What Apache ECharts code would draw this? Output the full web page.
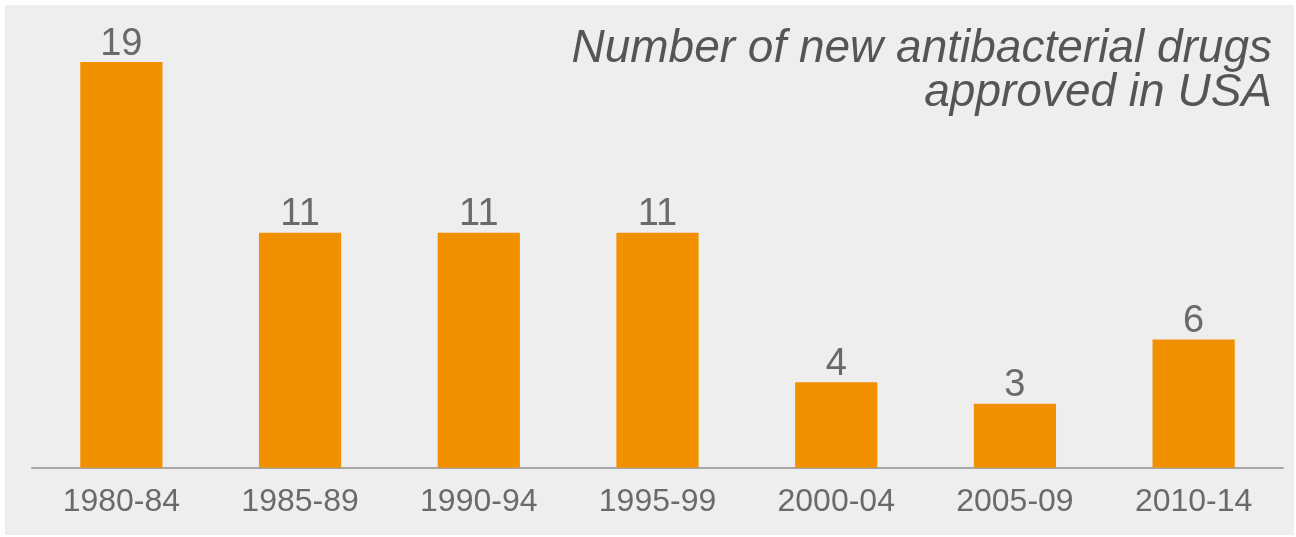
<!DOCTYPE html>
<html>
<head>
<meta charset="utf-8">
<script src="https://cdn.jsdelivr.net/npm/echarts@6/dist/echarts.min.js"></script>
<style>
  html, body { margin: 0; padding: 0; background: #ffffff; width: 1296px; height: 537px; overflow: hidden; }
  #chart { position: absolute; left: 5px; top: 5px; width: 1289px; height: 530px; }
</style>
</head>
<body>
<div id="chart"></div>
<script>
// Five-year periods and number of new antibacterial drugs approved in the USA
const periods = ['1980-84', '1985-89', '1990-94', '1995-99', '2000-04', '2005-09', '2010-14'];
const approvals = [19, 11, 11, 11, 4, 3, 6];
const titleLines = ['Number of new antibacterial drugs', 'approved in USA'];

const FONT = '"Liberation Sans", Arial, Helvetica, sans-serif';
const chart = echarts.init(document.getElementById('chart'), null, { renderer: 'canvas' });

// Right-aligned italic heading, one text element per line
const titleFont = 'italic 46px ' + FONT;
const titleGraphics = titleLines.map((line, i) => ({
  type: 'text',
  right: 22,
  top: 21 + i * 44,
  style: {
    text: line,
    font: titleFont,
    fill: '#555555',
    align: 'right'
  }
}));

chart.setOption({
  backgroundColor: '#eeeeee',
  animation: false,
  graphic: titleGraphics,
  grid: { left: 27, right: 11, top: 35.7, bottom: 67.3, containLabel: false },
  xAxis: {
    type: 'category',
    data: periods,
    axisLine: { show: true, lineStyle: { color: '#a6a6a6', width: 2 } },
    axisTick: { show: false },
    axisLabel: {
      fontFamily: FONT,
      fontSize: 32,
      color: '#6a6a6a',
      margin: 18
    }
  },
  yAxis: {
    type: 'value',
    min: 0,
    max: 20,
    show: false,
    splitLine: { show: false }
  },
  series: [{
    type: 'bar',
    data: approvals,
    barWidth: '46%',
    itemStyle: { color: '#f29100' },
    label: {
      show: true,
      position: 'top',
      distance: -1,
      fontFamily: FONT,
      fontSize: 38,
      color: '#6a6a6a'
    }
  }]
});
</script>
</body>
</html>
